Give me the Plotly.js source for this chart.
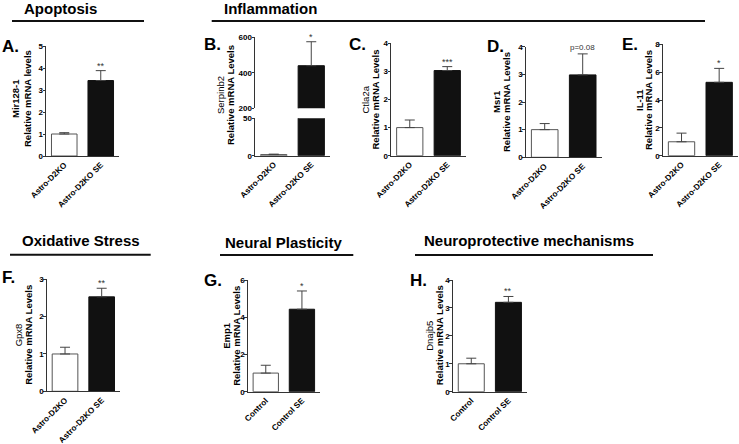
<!DOCTYPE html>
<html>
<head>
<meta charset="utf-8">
<script src="https://cdn.plot.ly/plotly-3.0.1.min.js"></script>
<style>
  html, body { margin: 0; padding: 0; background: #fff; }
  #fig { width: 739px; height: 444px; }
</style>
</head>
<body>
<div id="fig"></div>
<script>
// ---- data ----
const koGroups = ['Astro-D2KO', 'Astro-D2KO SE'];
const ctrlGroups = ['Control', 'Control SE'];
const panelLetters = ['A.', 'B.', 'C.', 'D.', 'E.', 'F.', 'G.', 'H.'];
const genes = ['Mir128-1', 'Serpinb2', 'Ctla2a', 'Msr1', 'IL-11', 'Gpx8', 'Emp1', 'Dnajb5'];
const yLabels = ['Relative mRNA levels', 'Relative mRNA Levels', 'Relative mRNA Levels', 'Relative mRNA Levels',
                 'Relative mRNA Levels', 'Relative mRNA Levels', 'Relative mRNA Levels', 'Relative mRNA Levels'];
const controlMean = [1.0, 1.5, 1.0, 1.0, 1.0, 1.0, 1.0, 1.0];
const controlErr = [0.06, 0.6, 0.27, 0.22, 0.62, 0.18, 0.42, 0.2];
const seMean = [3.43, 440, 3.03, 2.98, 5.27, 2.53, 4.43, 3.2];
const seErr = [0.45, 135, 0.14, 0.76, 1.0, 0.23, 0.98, 0.21];
const sigMarks = ['**', '*', '***', 'p=0.08', '*', '**', '*', '**'];
const axisMax = [5, 600, 4, 4, 8, 3, 6, 4];
const tickStep = [1, 200, 1, 1, 2, 1, 2, 1];
// Serpinb2 panel uses a broken axis
const lowRange = [0, 50];
const highRange = [200, 600];
const sections = ['Apoptosis', 'Inflammation', 'Oxidative Stress', 'Neural Plasticity', 'Neuroprotective mechanisms'];

// ---- layout (pixel boxes on the 739x444 page) ----
const W = 739, H = 444;
const FONT = 'Liberation Sans, Arial, Helvetica, sans-serif';
const AX = '#333';

const boxes = [
    { x: [46, 119], y: [46, 156], letter: [0, 46], gene: 15, rel: 27, mid: 99, bold: true, groups: koGroups },
    { x: [255, 330], y: [37.3, 155.7], gap: [108.3, 118.3], letter: [202, 45], gene: 220, rel: 230, mid: 95, bold: false, groups: koGroups },
    { x: [391, 466], y: [43.3, 155.7], letter: [347, 45], gene: 365, rel: 375, mid: 99.5, bold: false, groups: koGroups },
    { x: [525.7, 601.7], y: [46.7, 157.3], letter: [485, 46.7], gene: 496, rel: 506, mid: 102, bold: true, groups: koGroups },
    { x: [662.7, 738], y: [44.3, 155.7], letter: [620, 45], gene: 639, rel: 648, mid: 100, bold: true, groups: koGroups },
    { x: [46.7, 120], y: [279.3, 391.3], letter: [0, 277], gene: 18, rel: 28.5, mid: 335.3, bold: false, groups: koGroups },
    { x: [247.7, 320], y: [280, 391.7], letter: [202, 280], gene: 227, rel: 237, mid: 335.8, bold: true, groups: ctrlGroups },
    { x: [452.7, 527], y: [280, 391.7], letter: [408, 280], gene: 430, rel: 439.5, mid: 335.8, bold: false, groups: ctrlGroups }
];

const headers = [
    { x: 22, y: 8, line: [12, 144, 21] },
    { x: 221.7, y: 8, line: [211.7, 705, 21] },
    { x: 20, y: 240.8, line: [10, 150.7, 254.7] },
    { x: 223.3, y: 242, line: [220, 353.3, 255] },
    { x: 421.7, y: 240.8, line: [415, 653, 255] }
];

const px = v => v / W;
const py = v => 1 - v / H;

function yAxisBase(range, step, domain, anchor) {
    const vals = [];
    for (let v = range[0]; v <= range[1] + 1e-9; v += step) vals.push(v);
    return {
        domain: domain,
        anchor: anchor,
        range: range,
        tickvals: vals,
        showline: true, linecolor: AX, linewidth: 1,
        ticks: 'outside', ticklen: 2.5, tickwidth: 1, tickcolor: AX,
        ticklabelstandoff: -2,
        tickfont: { family: FONT, size: 8, weight: 'bold', color: '#000' },
        showgrid: false, zeroline: false, fixedrange: true
    };
}

function barTrace(cat, val, err, dark, xa, ya, withErr) {
    return {
        type: 'bar',
        x: [cat], y: [val], width: [0.7],
        xaxis: xa, yaxis: ya,
        marker: { color: dark ? '#111' : '#fff', line: { color: dark ? '#111' : '#555', width: 1 } },
        error_y: {
            type: 'data', symmetric: false, array: [err], arrayminus: [0],
            color: '#444', thickness: 1, width: 5, visible: withErr
        },
        hoverinfo: 'skip', showlegend: false
    };
}

const traces = [];
const layout = {
    width: W, height: H,
    margin: { l: 0, r: 0, t: 0, b: 0 },
    paper_bgcolor: '#fff', plot_bgcolor: '#fff',
    barmode: 'overlay', showlegend: false,
    font: { family: FONT, color: '#000' },
    annotations: [], shapes: []
};

boxes.forEach((b, i) => {
    const n = i + 1;
    const xa = 'x' + n, ya = 'y' + n;
    const g = b.groups;

    layout['xaxis' + n] = {
        domain: [px(b.x[0]), px(b.x[1])],
        anchor: ya,
        type: 'category', range: [-0.5, 1.5],
        showline: true, linecolor: AX, linewidth: 1,
        ticks: '', tickangle: -45,
        tickfont: { family: FONT, size: 8.2, weight: 'bold', color: '#000' },
        showgrid: false, zeroline: false, fixedrange: true
    };

    let markAxis = ya;
    if (b.gap) {
        // lower part of the broken axis
        layout['yaxis' + n] = yAxisBase(lowRange, 50, [py(b.y[1]), py(b.gap[1])], xa);
        traces.push(barTrace(g[0], controlMean[i], controlErr[i], false, xa, ya, true));
        traces.push(barTrace(g[1], seMean[i], seErr[i], true, xa, ya, false));
        // upper part
        layout.yaxis9 = yAxisBase(highRange, tickStep[i], [py(b.gap[0]), py(b.y[0])], xa);
        traces.push(barTrace(g[1], seMean[i], seErr[i], true, xa, 'y9', true));
        markAxis = 'y9';
    } else {
        layout['yaxis' + n] = yAxisBase([0, axisMax[i]], tickStep[i], [py(b.y[1]), py(b.y[0])], xa);
        traces.push(barTrace(g[0], controlMean[i], controlErr[i], false, xa, ya, true));
        traces.push(barTrace(g[1], seMean[i], seErr[i], true, xa, ya, true));
    }

    const isP = sigMarks[i].startsWith('p');
    layout.annotations.push({
        xref: xa, yref: markAxis, x: 1, y: seMean[i] + seErr[i],
        text: sigMarks[i], showarrow: false,
        xanchor: 'center', yanchor: 'bottom', yshift: isP ? 0 : -2,
        font: { family: FONT, size: isP ? 8 : 9, color: '#333' }
    });

    layout.annotations.push({
        xref: 'paper', yref: 'paper', x: px(b.letter[0]), y: py(b.letter[1]),
        text: panelLetters[i], showarrow: false, xanchor: 'left', yanchor: 'middle',
        font: { family: FONT, size: 17, weight: 'bold', color: '#000' }
    });
    layout.annotations.push({
        xref: 'paper', yref: 'paper', x: px(b.gene), y: py(b.mid),
        text: genes[i], showarrow: false, textangle: -90,
        xanchor: 'center', yanchor: 'middle',
        font: { family: FONT, size: 9.5, weight: b.bold ? 'bold' : 'normal', color: '#000' }
    });
    layout.annotations.push({
        xref: 'paper', yref: 'paper', x: px(b.rel), y: py(b.mid),
        text: yLabels[i], showarrow: false, textangle: -90,
        xanchor: 'center', yanchor: 'middle',
        font: { family: FONT, size: 9.5, weight: 'bold', color: '#000' }
    });
});

headers.forEach((h, i) => {
    layout.annotations.push({
        xref: 'paper', yref: 'paper', x: px(h.x), y: py(h.y),
        text: sections[i], showarrow: false, xanchor: 'left', yanchor: 'middle',
        font: { family: FONT, size: 15, weight: 'bold', color: '#000' }
    });
    layout.shapes.push({
        type: 'line', xref: 'paper', yref: 'paper',
        x0: px(h.line[0]), x1: px(h.line[1]), y0: py(h.line[2]), y1: py(h.line[2]),
        line: { color: '#111', width: 2 }
    });
});

Plotly.newPlot('fig', traces, layout, { displayModeBar: false, staticPlot: true });
</script>
</body>
</html>
